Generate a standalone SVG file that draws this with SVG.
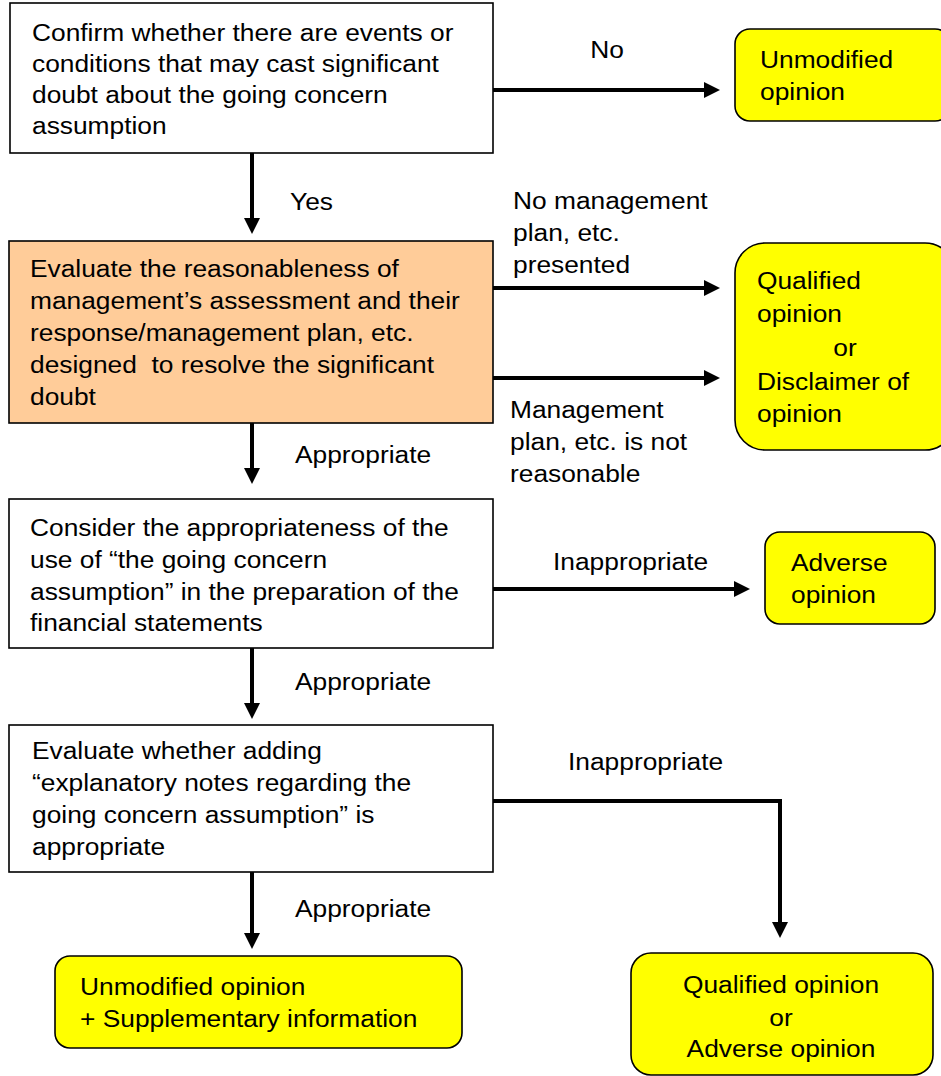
<svg xmlns="http://www.w3.org/2000/svg" width="941" height="1076" viewBox="0 0 941 1076">
<style>
.t{font-family:"Liberation Sans",Arial,sans-serif;font-size:23px;fill:#000}
.box{fill:#fff;stroke:#000;stroke-width:1.6}
.org{fill:#FFCC99;stroke:#000;stroke-width:1.6}
.yel{fill:#FFFF00;stroke:#000;stroke-width:1.6}
.c{fill:none;stroke:#000;stroke-width:4;stroke-linejoin:miter}
</style>
<defs>
<marker id="ah" viewBox="0 0 16 16" markerWidth="16" markerHeight="16" refX="0" refY="8" orient="auto" markerUnits="userSpaceOnUse">
<path d="M0,0 L16,8 L0,16 z" fill="#000"/>
</marker>
</defs>
<rect width="941" height="1076" fill="#fff"/>

<g id="connectors">
<path class="c" d="M493,90 H704" marker-end="url(#ah)"/>
<path class="c" d="M252,153 V218" marker-end="url(#ah)"/>
<path class="c" d="M493,288 H704" marker-end="url(#ah)"/>
<path class="c" d="M493,378 H704" marker-end="url(#ah)"/>
<path class="c" d="M252,423 V468" marker-end="url(#ah)"/>
<path class="c" d="M493,589 H734" marker-end="url(#ah)"/>
<path class="c" d="M252,648 V703" marker-end="url(#ah)"/>
<path class="c" d="M493,801 H780 V922" marker-end="url(#ah)"/>
<path class="c" d="M252,872 V933" marker-end="url(#ah)"/>
</g>

<g id="labels">
<text class="t" text-anchor="middle" transform="translate(607,58) scale(1.145,1)">No</text>
<text class="t" transform="translate(290,210) scale(1.145,1)">Yes</text>
<text class="t" transform="translate(513,209) scale(1.145,1)"><tspan x="0" y="0">No management</tspan><tspan x="0" y="32">plan, etc.</tspan><tspan x="0" y="64">presented</tspan></text>
<text class="t" transform="translate(510,418) scale(1.145,1)"><tspan x="0" y="0">Management</tspan><tspan x="0" y="32">plan, etc. is not</tspan><tspan x="0" y="64">reasonable</tspan></text>
<text class="t" transform="translate(295,463) scale(1.145,1)">Appropriate</text>
<text class="t" transform="translate(553,570) scale(1.145,1)">Inappropriate</text>
<text class="t" transform="translate(295,690) scale(1.145,1)">Appropriate</text>
<text class="t" transform="translate(568,770) scale(1.145,1)">Inappropriate</text>
<text class="t" transform="translate(295,917) scale(1.145,1)">Appropriate</text>
</g>

<g id="n1">
<rect class="box" x="10" y="3" width="483" height="150"/>
<text class="t" transform="translate(32,41) scale(1.145,1)"><tspan x="0" y="0">Confirm whether there are events or</tspan><tspan x="0" y="31">conditions that may cast significant</tspan><tspan x="0" y="62">doubt about the going concern</tspan><tspan x="0" y="93">assumption</tspan></text>
</g>

<g id="n2">
<rect class="yel" x="735" y="29" width="215" height="92" rx="15"/>
<text class="t" transform="translate(760,68) scale(1.145,1)"><tspan x="0" y="0">Unmodified</tspan><tspan x="0" y="32">opinion</tspan></text>
</g>

<g id="n3">
<rect class="org" x="9" y="241" width="484" height="182"/>
<text class="t" transform="translate(30,277) scale(1.145,1)" xml:space="preserve"><tspan x="0" y="0">Evaluate the reasonableness of</tspan><tspan x="0" y="32">management’s assessment and their</tspan><tspan x="0" y="64">response/management plan, etc.</tspan><tspan x="0" y="96">designed  to resolve the significant</tspan><tspan x="0" y="128">doubt</tspan></text>
</g>

<g id="n4">
<rect class="yel" x="735" y="243" width="220" height="207" rx="30"/>
<text class="t" transform="translate(757,289) scale(1.145,1)"><tspan x="0" y="0">Qualified</tspan><tspan x="0" y="33">opinion</tspan></text>
<text class="t" text-anchor="middle" transform="translate(845,356) scale(1.145,1)">or</text>
<text class="t" transform="translate(757,390) scale(1.145,1)"><tspan x="0" y="0">Disclaimer of</tspan><tspan x="0" y="32">opinion</tspan></text>
</g>

<g id="n5">
<rect class="box" x="9" y="499" width="484" height="149"/>
<text class="t" transform="translate(30,536) scale(1.145,1)"><tspan x="0" y="0">Consider the appropriateness of the</tspan><tspan x="0" y="32">use of “the going concern</tspan><tspan x="0" y="64">assumption” in the preparation of the</tspan><tspan x="0" y="95">financial statements</tspan></text>
</g>

<g id="n6">
<rect class="yel" x="765" y="532" width="170" height="92" rx="15"/>
<text class="t" transform="translate(791,571) scale(1.145,1)"><tspan x="0" y="0">Adverse</tspan><tspan x="0" y="32">opinion</tspan></text>
</g>

<g id="n7">
<rect class="box" x="9" y="725" width="484" height="147"/>
<text class="t" transform="translate(32,759) scale(1.145,1)"><tspan x="0" y="0">Evaluate whether adding</tspan><tspan x="0" y="32">“explanatory notes regarding the</tspan><tspan x="0" y="64">going concern assumption” is</tspan><tspan x="0" y="96">appropriate</tspan></text>
</g>

<g id="n8">
<rect class="yel" x="55" y="956" width="407" height="92" rx="15"/>
<text class="t" transform="translate(80,995) scale(1.145,1)"><tspan x="0" y="0">Unmodified opinion</tspan><tspan x="0" y="32">+ Supplementary information</tspan></text>
</g>

<g id="n9">
<rect class="yel" x="631" y="953" width="302" height="122" rx="20"/>
<text class="t" text-anchor="middle" transform="translate(781,993) scale(1.145,1)"><tspan x="0" y="0">Qualified opinion</tspan><tspan x="0" y="33">or</tspan><tspan x="0" y="64">Adverse opinion</tspan></text>
</g>
</svg>
